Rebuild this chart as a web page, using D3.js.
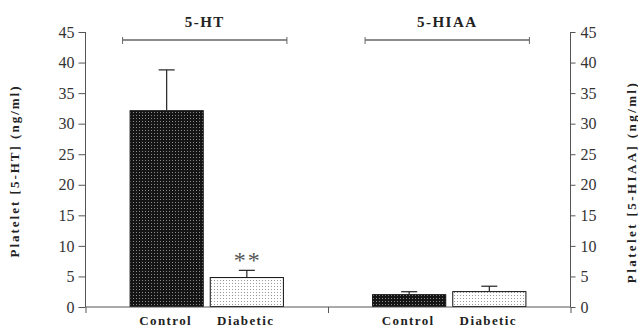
<!DOCTYPE html>
<html><head><meta charset="utf-8">
<script src="https://cdn.jsdelivr.net/npm/d3@7"></script>
<style>
body{margin:0;background:#fff;}
svg{display:block;font-family:"Liberation Serif","Times New Roman",serif;}
svg text{font-family:"Liberation Serif","Times New Roman",serif;}
</style></head>
<body><svg id="c" width="638" height="327"></svg>
<script>
const groups = ["5-HT", "5-HIAA"];
const conditions = ["Control", "Diabetic"];
const means = {"5-HT": [32.2, 4.9], "5-HIAA": [2.1, 2.6]};
const errors = {"5-HT": [6.6, 1.1], "5-HIAA": [0.4, 0.8]};
const yTicks = [0, 5, 10, 15, 20, 25, 30, 35, 40, 45];
const leftLabel = "Platelet [5-HT] (ng/ml)";
const rightLabel = "Platelet [5-HIAA] (ng/ml)";
const significance = {"5-HT": ["", "**"], "5-HIAA": ["", ""]};

const svg = d3.select("#c");
const L = 85.5, R = 570.5, T = 32, B = 307;
const y = d3.scaleLinear().domain([0, 45]).range([B, T]);
const x0 = d3.scaleBand().domain(groups).range([L, R]).padding(0);
const x1 = d3.scaleBand().domain(conditions).range([0, x0.bandwidth()]).paddingInner(0.075).paddingOuter(0.55);

// patterns
const defs = svg.append("defs");
const p1 = defs.append("pattern").attr("id", "pDark").attr("patternUnits", "userSpaceOnUse").attr("width", 3).attr("height", 3);
p1.append("rect").attr("width", 3).attr("height", 3).attr("fill", "#151515");
p1.append("rect").attr("x", 1).attr("y", 1).attr("width", 1).attr("height", 1).attr("fill", "#8a8a8a");
const p2 = defs.append("pattern").attr("id", "pLight").attr("patternUnits", "userSpaceOnUse").attr("width", 3).attr("height", 3);
p2.append("rect").attr("width", 3).attr("height", 3).attr("fill", "#ffffff");
p2.append("rect").attr("x", 1).attr("y", 1).attr("width", 1).attr("height", 1).attr("fill", "#9a9a9a");
const fills = {"Control": "url(#pDark)", "Diabetic": "url(#pLight)"};

// bars
const data = [];
groups.forEach(g => conditions.forEach((c, i) => data.push({g, c, v: means[g][i], e: errors[g][i], s: significance[g][i]})));

const bars = svg.append("g");
bars.selectAll("rect").data(data).join("rect")
  .attr("x", d => x0(d.g) + x1(d.c) + 0.5)
  .attr("y", d => y(d.v) + 0.5)
  .attr("width", x1.bandwidth() - 1)
  .attr("height", d => y(0) - y(d.v) - 1)
  .attr("fill", d => fills[d.c])
  .attr("stroke", "#111").attr("stroke-width", 1);

// error bars
const eb = svg.append("g").attr("stroke", "#222").attr("stroke-width", 1.2);
data.forEach(d => {
  const cx = x0(d.g) + x1(d.c) + x1.bandwidth() / 2;
  eb.append("line").attr("x1", cx).attr("x2", cx).attr("y1", y(d.v)).attr("y2", y(d.v + d.e));
  eb.append("line").attr("x1", cx - 8).attr("x2", cx + 8).attr("y1", y(d.v + d.e)).attr("y2", y(d.v + d.e));
  if (d.s) {
    svg.append("text").attr("x", cx + 1).attr("y", y(d.v + d.e) - 2)
      .attr("text-anchor", "middle").attr("font-size", 24).attr("letter-spacing", 2)
      .attr("fill", "#555").text(d.s);
  }
});

// axes
const axisColor = "#555";
const yl = svg.append("g").attr("transform", `translate(${L},0)`)
  .call(d3.axisLeft(y).tickValues(yTicks).tickSize(7).tickPadding(4));
const yr = svg.append("g").attr("transform", `translate(${R},0)`)
  .call(d3.axisRight(y).tickValues(yTicks).tickSize(5).tickPadding(5));
[yl, yr].forEach(a => {
  a.attr("font-family", null);
  a.select(".domain").attr("stroke", axisColor).attr("d", `M0,${T}V${B}`);
  a.selectAll(".tick line").attr("stroke", axisColor);
  a.selectAll(".tick text").attr("font-size", 16).attr("fill", "#333");
});

// x baseline with group boundary ticks
const xb = svg.append("g").attr("transform", `translate(0,${B})`)
  .call(d3.axisBottom(d3.scaleLinear().domain([0, 2]).range([L, R])).tickValues([0, 1, 2]).tickSize(6).tickFormat(""));
xb.select(".domain").attr("stroke", axisColor).attr("d", `M${L},0H${R}`);
xb.selectAll(".tick line").attr("stroke", axisColor);

// category labels
data.forEach(d => {
  svg.append("text").attr("x", x0(d.g) + x1(d.c) + x1.bandwidth() / 2 - 1).attr("y", 325)
    .attr("text-anchor", "middle").attr("font-size", 13).attr("font-weight", "bold")
    .attr("letter-spacing", 1.4).attr("fill", "#222").text(d.c);
});

// brackets and titles
groups.forEach(g => {
  const xa = x0(g) + x1("Control") - 7;
  const xbb = x0(g) + x1("Diabetic") + x1.bandwidth() + 3;
  const gy = 40;
  const br = svg.append("g").attr("stroke", "#666").attr("stroke-width", 1.5);
  br.append("line").attr("x1", xa).attr("x2", xbb).attr("y1", gy).attr("y2", gy);
  br.append("line").attr("x1", xa).attr("x2", xa).attr("y1", gy - 3).attr("y2", gy + 4).attr("stroke-width", 1);
  br.append("line").attr("x1", xbb).attr("x2", xbb).attr("y1", gy - 3).attr("y2", gy + 4).attr("stroke-width", 1);
  svg.append("text").attr("x", (xa + xbb) / 2).attr("y", 27).attr("text-anchor", "middle")
    .attr("font-size", 15).attr("font-weight", "bold").attr("letter-spacing", 1.5).attr("fill", "#222").text(g);
});

// axis titles
svg.append("text").attr("transform", `translate(19,171) rotate(-90)`).attr("text-anchor", "middle")
  .attr("font-size", 13).attr("font-weight", "bold").attr("letter-spacing", 2.0).attr("fill", "#222").text(leftLabel);
svg.append("text").attr("transform", `translate(636,182) rotate(-90)`).attr("text-anchor", "middle")
  .attr("font-size", 13).attr("font-weight", "bold").attr("letter-spacing", 2.4).attr("fill", "#222").text(rightLabel);
</script></body></html>
